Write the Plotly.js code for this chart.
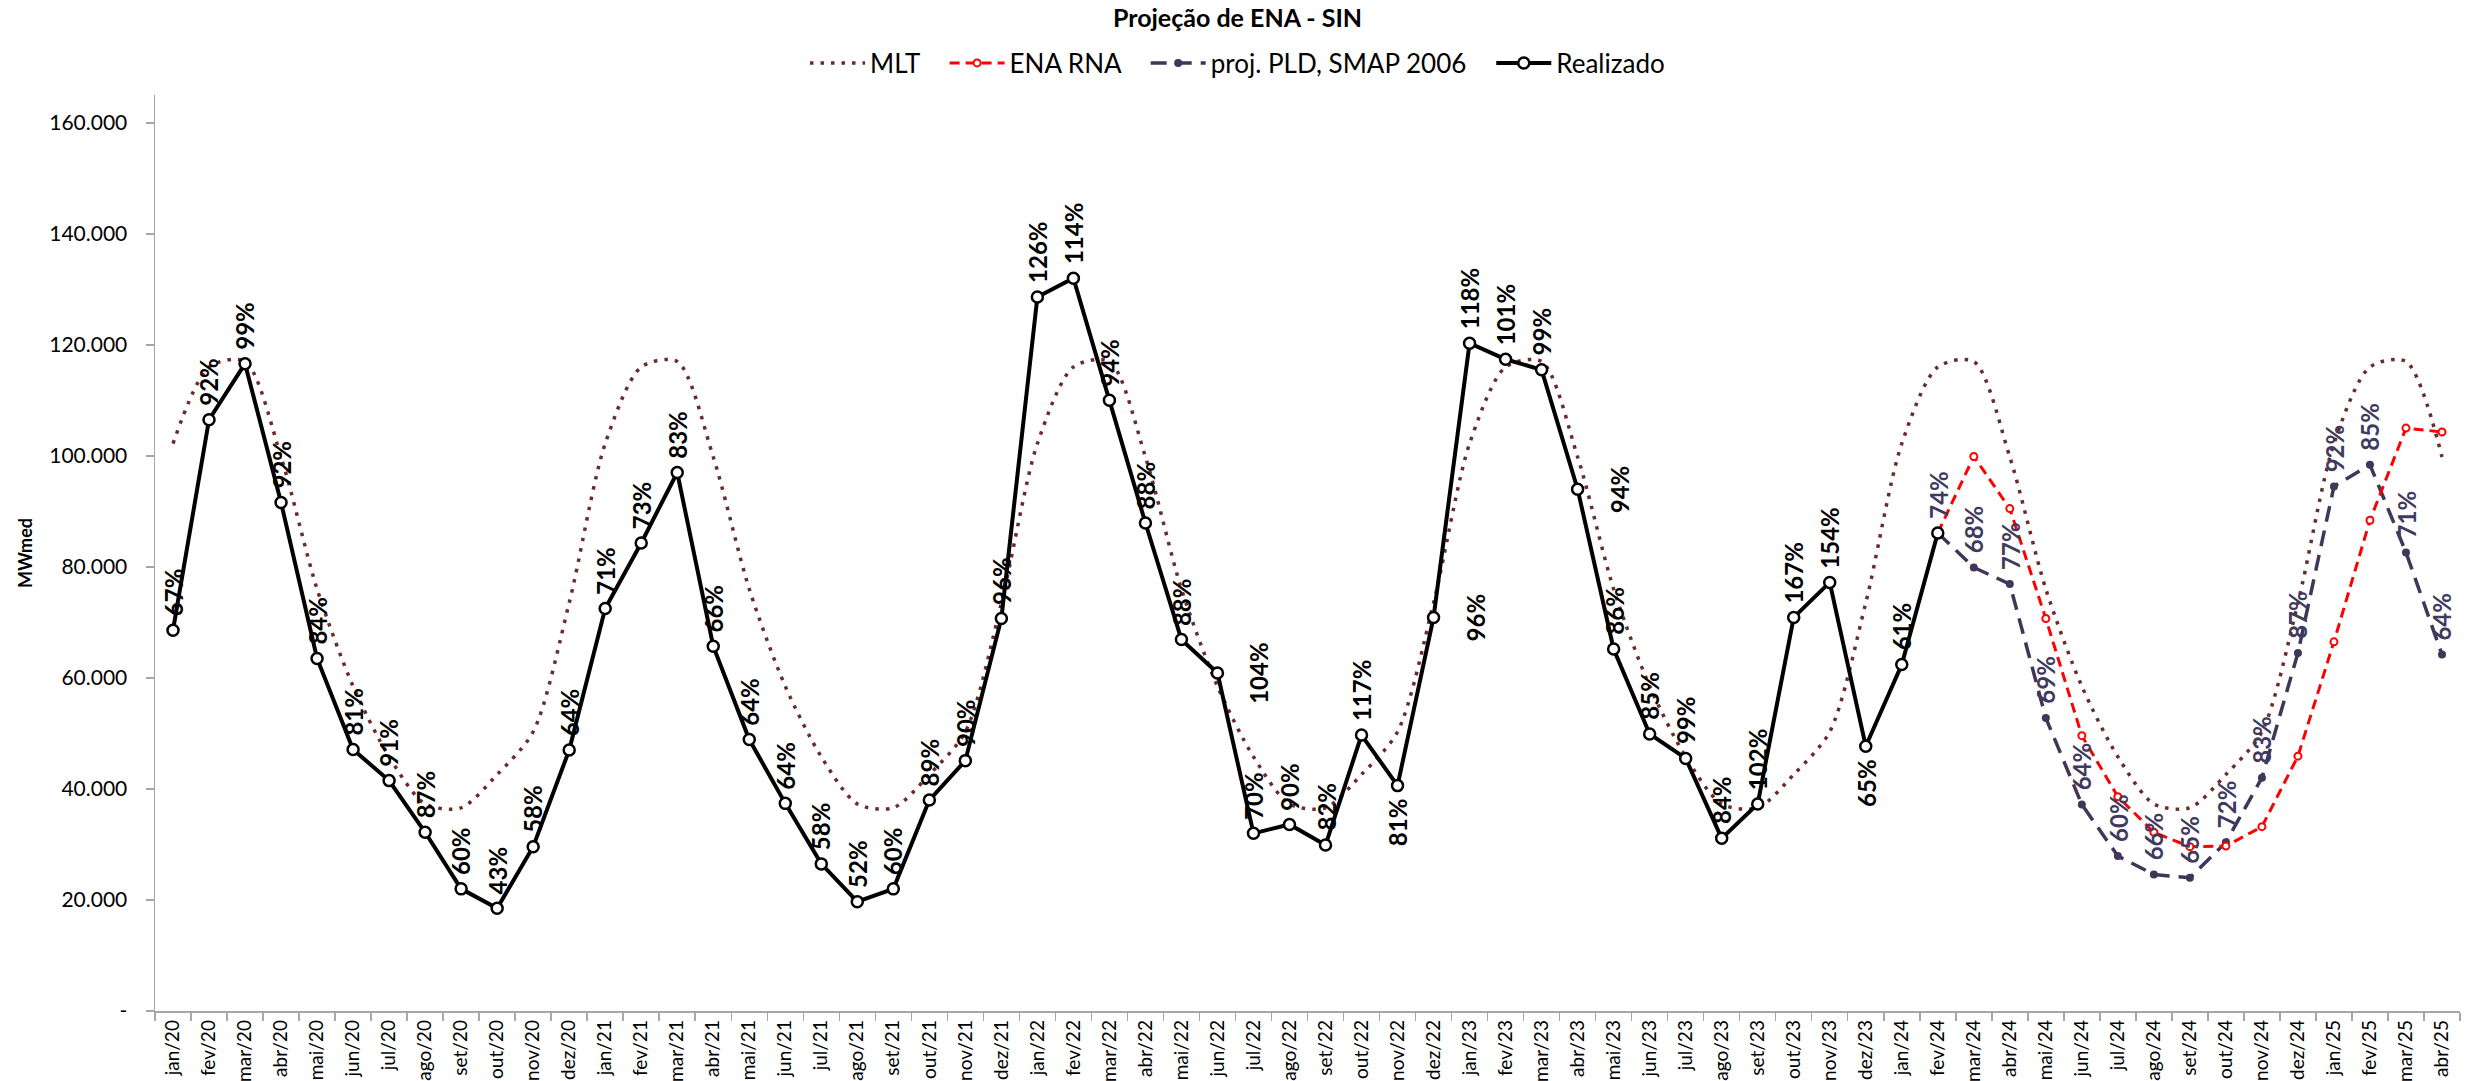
<!DOCTYPE html>
<html>
<head>
<meta charset="utf-8">
<script src="https://cdn.plot.ly/plotly-3.0.1.min.js"></script>
<style>html,body{margin:0;padding:0;background:#fff}#chart{width:2475px;height:1081px}</style>
</head>
<body>
<div id="chart"></div>
<script>
const months = [
  'jan/20','fev/20','mar/20','abr/20','mai/20','jun/20','jul/20','ago/20','set/20','out/20','nov/20','dez/20',
  'jan/21','fev/21','mar/21','abr/21','mai/21','jun/21','jul/21','ago/21','set/21','out/21','nov/21','dez/21',
  'jan/22','fev/22','mar/22','abr/22','mai/22','jun/22','jul/22','ago/22','set/22','out/22','nov/22','dez/22',
  'jan/23','fev/23','mar/23','abr/23','mai/23','jun/23','jul/23','ago/23','set/23','out/23','nov/23','dez/23',
  'jan/24','fev/24','mar/24','abr/24','mai/24','jun/24','jul/24','ago/24','set/24','out/24','nov/24','dez/24',
  'jan/25','fev/25','mar/25','abr/25'
];

// MLT (long-term mean), MWmed
const mlt = [
  102200,116000,117000,99800,76000,58500,45800,37300,36600,42600,50300,73500,
  102200,116000,117000,99800,76000,58500,45800,37300,36600,42600,50300,73500,
  102200,116000,117000,99800,76000,58500,45800,37300,36600,42600,50300,73500,
  102200,116000,117000,99800,76000,58500,45800,37300,36600,42600,50300,73500,
  102200,116000,117000,99800,76000,58500,45800,37300,36600,42600,50300,73500,
  102200,116000,117000,99800
];

// Realizado: jan/20 .. fev/24
const realizadoMonths = months.slice(0, 50);
const realizado = [
  68600,106500,116600,91600,63500,47100,41500,32200,22000,18500,29600,47000,
  72500,84300,97000,65700,48900,37400,26500,19700,22000,38000,45100,70700,
  128600,132000,110000,87900,66900,60900,32000,33600,29900,49700,40600,70900,
  120300,117400,115500,94000,65200,49900,45500,31100,37300,70900,77200,47700,
  62400,86100
];
const realizadoPct = [
  67,92,99,92,84,81,91,87,60,43,58,64,
  71,73,83,66,64,64,58,52,60,89,90,96,
  126,114,94,88,88,104,70,90,82,117,81,96,
  118,101,99,94,86,85,99,84,102,167,154,65,
  61
];
// label placement: a = above, b = below, r = right
const realizadoLabelPos = [
  'a','a','a','a','a','a','a','a','a','a','a','a',
  'a','a','a','a','a','a','a','a','a','a','a','a',
  'a','a','a','a','a','r','a','a','a','a','b','r',
  'a','a','a','r','a','a','a','a','a','a','a','b',
  'a'
];

// Projections: fev/24 .. abr/25
const projMonths = months.slice(49);
const enaRna = [86100,99900,90500,70700,49600,38600,32200,29600,29700,33200,45900,66500,88400,105000,104300];
const projPld = [86100,79900,76900,52800,37200,27900,24600,24000,30400,42000,64500,94500,98400,82600,64200];
const projPct = [74,68,77,69,64,60,66,65,72,83,87,92,85,71,64];

const yTickVals = [0,20000,40000,60000,80000,100000,120000,140000,160000];
const yTickText = ['-','20.000','40.000','60.000','80.000','100.000','120.000','140.000','160.000'];
const yAxisTitle = 'MWmed';

const FONT = 'Lato, "Open Sans", sans-serif';
const C_MLT = '#6B2B2B';
const C_PROJ = '#3F3658';
const C_RNA = '#FF0000';
const LEGEND_PAD = '\u00A0\u00A0\u00A0';

const traces = [
  {
    name: 'MLT' + LEGEND_PAD, x: months, y: mlt, type: 'scatter', mode: 'lines',
    line: {color: C_MLT, width: 3.5, dash: '3.5px,7px', shape: 'spline', smoothing: 0.8},
    legendrank: 1
  },
  {
    name: 'proj. PLD, SMAP 2006' + LEGEND_PAD, x: projMonths, y: projPld, type: 'scatter', mode: 'lines+markers',
    line: {color: C_PROJ, width: 3.5, dash: '16px,9px'},
    marker: {symbol: 'circle', size: 8, color: C_PROJ},
    legendrank: 3
  },
  {
    name: 'ENA RNA' + LEGEND_PAD, x: projMonths, y: enaRna, type: 'scatter', mode: 'lines+markers',
    line: {color: C_RNA, width: 3, dash: '10px,6px'},
    marker: {symbol: 'circle', size: 7, color: '#ffffff', line: {color: C_RNA, width: 2}},
    legendrank: 2
  },
  {
    name: 'Realizado', x: realizadoMonths, y: realizado, type: 'scatter', mode: 'lines+markers',
    line: {color: '#000000', width: 4},
    marker: {symbol: 'circle', size: 11, color: '#ffffff', line: {color: '#000000', width: 2.5}},
    legendrank: 4
  }
];

function label(x, y, pct, pos, color) {
  const a = {
    x: x, y: y, xref: 'x', yref: 'y', text: pct + '%', showarrow: false,
    textangle: -90, font: {family: FONT, size: 24, weight: 700, color: color}, borderpad: 0
  };
  if (pos === 'b') { a.xanchor = 'center'; a.yanchor = 'top'; a.yshift = -12; }
  else if (pos === 'r') { a.xanchor = 'left'; a.yanchor = 'middle'; a.xshift = 26; }
  else { a.xanchor = 'center'; a.yanchor = 'bottom'; a.yshift = 13; }
  return a;
}

const annotations = [];
realizadoPct.forEach((p, i) => {
  annotations.push(label(realizadoMonths[i], realizado[i], p, realizadoLabelPos[i], '#000000'));
});
projPct.forEach((p, i) => {
  annotations.push(label(projMonths[i], projPld[i], p, 'a', '#403A5E'));
});
// vertical axis title
annotations.push({
  text: yAxisTitle, xref: 'paper', yref: 'paper', x: 0, y: 0.5,
  xanchor: 'center', yanchor: 'middle', xshift: -130, showarrow: false,
  textangle: -90, font: {family: FONT, size: 18, weight: 700, color: '#000000'}
});

const layout = {
  width: 2475, height: 1081,
  paper_bgcolor: '#ffffff', plot_bgcolor: '#ffffff',
  margin: {l: 155, r: 15, t: 95, b: 70},
  font: {family: FONT, color: '#000000'},
  title: {
    text: 'Projeção de ENA - SIN', xref: 'container', x: 0.5, xanchor: 'center',
    yref: 'container', y: 1 - 18/1081, yanchor: 'middle',
    font: {family: FONT, size: 25, weight: 700, color: '#000000'}
  },
  showlegend: true,
  legend: {
    orientation: 'h', xref: 'container', x: 0.5, xanchor: 'center',
    yref: 'container', y: 1 - 63/1081, yanchor: 'middle',
    font: {family: FONT, size: 26, color: '#000000'},
    itemwidth: 55, traceorder: 'normal', bgcolor: 'rgba(0,0,0,0)'
  },
  xaxis: {
    type: 'category', categoryorder: 'array', categoryarray: months,
    range: [-0.5, months.length - 0.5],
    tickson: 'boundaries', ticks: 'outside', ticklen: 8, tickcolor: '#A6A6A6', tickwidth: 1.5,
    showline: true, linecolor: '#A6A6A6', linewidth: 1.5,
    showgrid: false, zeroline: false, tickangle: -90, automargin: false,
    tickfont: {family: FONT, size: 19, color: '#000000'}
  },
  yaxis: {
    range: [0, 165000], tickvals: yTickVals, ticktext: yTickText,
    ticks: 'outside', ticklen: 8, tickcolor: '#A6A6A6', tickwidth: 1.5,
    showline: true, linecolor: '#A6A6A6', linewidth: 1.5,
    showgrid: false, zeroline: false, ticklabelstandoff: 14, automargin: false,
    tickfont: {family: FONT, size: 21, color: '#000000'}
  },
  annotations: annotations,
  hovermode: false
};

Plotly.newPlot('chart', traces, layout, {staticPlot: true, displayModeBar: false});
</script>
</body>
</html>
